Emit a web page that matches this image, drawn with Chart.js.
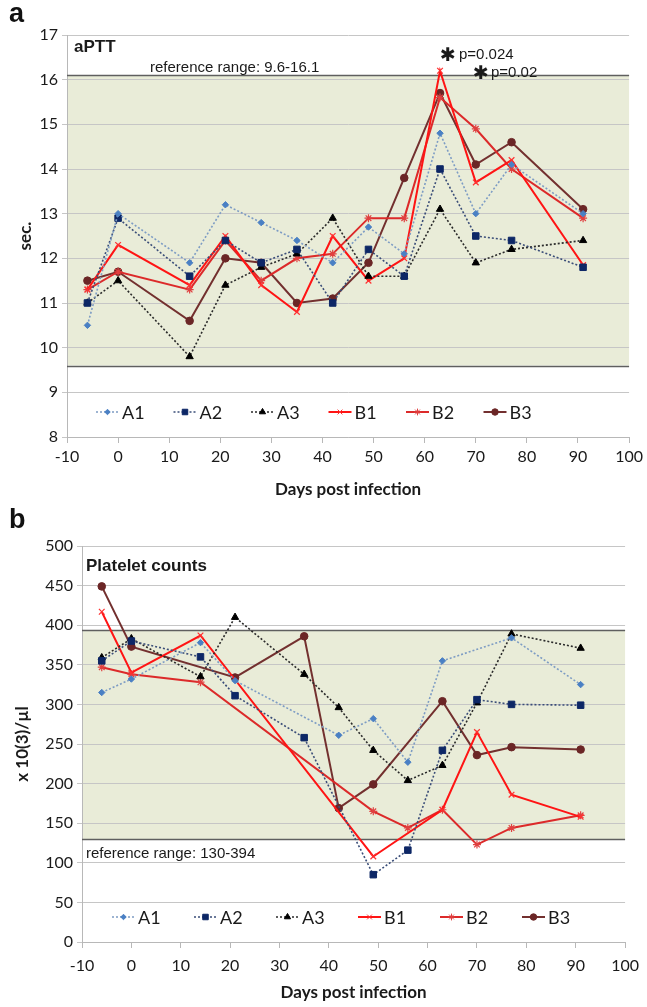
<!DOCTYPE html>
<html>
<head>
<meta charset="utf-8">
<script src="https://cdn.jsdelivr.net/npm/chart.js@4.4.1/dist/chart.umd.min.js"></script>
<style>
  body { margin: 0; background: #fff; width: 647px; height: 1007px; overflow: hidden; position: relative; }
  .wrap { position: absolute; left: 0; width: 647px; }
  .lbl { position: absolute; left: 9px; font: bold 27px "Liberation Sans", Arial, sans-serif; color: #111; }
</style>
</head>
<body>
<div class="wrap" style="top:0;height:500px"><canvas id="apttCanvas" width="647" height="500"></canvas></div>
<div class="wrap" style="top:500px;height:507px"><canvas id="plateletCanvas" width="647" height="507"></canvas></div>
<div class="lbl" style="top:-2px">a</div>
<div class="lbl" style="top:504px">b</div>

<script>
// sampling days (x values)
const days = [-6, 0, 14, 21, 28, 35, 42, 49, 56, 63, 70, 77, 91];
const seriesNames = ["A1", "A2", "A3", "B1", "B2", "B3"];

// aPTT (sec.)
const apttA1 = [10.5, 13.0, 11.9, 13.2, 12.8, 12.4, 11.9, 12.7, 12.1, 14.8, 13.0, 14.1, 13.0];
const apttA2 = [11.0, 12.9, 11.6, 12.4, 11.9, 12.2, 11.0, 12.2, 11.6, 14.0, 12.5, 12.4, 11.8];
const apttA3 = [11.0, 11.5, 9.8, 11.4, 11.8, 12.1, 12.9, 11.6, 11.6, 13.1, 11.9, 12.2, 12.4];
const apttB1 = [11.3, 12.3, 11.4, 12.5, 11.4, 10.8, 12.5, 11.5, 12.0, 16.2, 13.7, 14.2, 11.85];
const apttB2 = [11.3, 11.7, 11.3, 12.4, 11.5, 12.0, 12.1, 12.9, 12.9, 15.6, 14.9, 14.0, 12.9];
const apttB3 = [11.5, 11.7, 10.6, 12.0, 11.9, 11.0, 11.1, 11.9, 13.8, 15.7, 14.1, 14.6, 13.1];
const apttRefLow = 9.6, apttRefHigh = 16.1;

// platelet counts (x 10(3)/µl), null = not sampled
const pltA1 = [315, 332, 378, 330, null, null, 261, 282, 227, 355, null, 384, 325];
const pltA2 = [355, 380, 360, 311, null, 258, null, 85, 116, 242, 306, 300, 299];
const pltA3 = [359, 383, 335, 410, null, 338, 296, 242, 204, 223, 302, 389, 371];
const pltB1 = [417, 340, 387, null, null, null, null, 108, null, 167, 265, 186, 158];
const pltB2 = [347, 338, 328, null, null, null, null, 165, 144, 167, 123, 144, 160];
const pltB3 = [449, 373, null, 334, null, 386, 169, 199, null, 304, 236, 246, 243];
const pltRefLow = 130, pltRefHigh = 394;

// looks
const lineColors   = ["#7d9cc4", "#3a4d78", "#2a2a2a", "#ff1414", "#dc2a2a", "#73302f"];
const markerColors = ["#4a80c4", "#0d2766", "#000000", "#ff3030", "#e04040", "#6b2626"];
const markerStyles = ["rectRot", "rect", "triangle", "crossRot", "star", "circle"];
const markerRadius = [3.2, 4.6, 4.2, 4, 4, 3.8];
const tickFont = {family: "Lato, 'Open Sans', sans-serif", size: 16};
const titleFont = {family: "Lato, 'Open Sans', sans-serif", size: 17, weight: "bold"};

function makeDatasets(values)
{
  return seriesNames.map((name, i) => ({
    label: name,
    data: days.map((d, k) => ({x: d, y: values[i][k]})),
    borderColor: lineColors[i],
    backgroundColor: markerColors[i],
    pointBackgroundColor: markerColors[i],
    pointBorderColor: markerColors[i],
    pointBorderWidth: i >= 3 && i < 5 ? 1.2 : 1,
    pointStyle: markerStyles[i],
    pointRadius: markerRadius[i],
    borderWidth: i < 3 ? 1.6 : 2,
    borderDash: i < 3 ? [2, 2] : [],
    spanGaps: true,
    tension: 0
  }));
}

// shaded reference band, drawn under the grid
const refBand =
{
  id: "refBand",
  beforeDraw(chart, args, o)
  {
    const {ctx, chartArea: a, scales: {y}} = chart;
    const top = y.getPixelForValue(o.hi), bot = y.getPixelForValue(o.lo);
    ctx.save();
    ctx.fillStyle = "#e9ecd8";
    ctx.fillRect(a.left, top, a.right - a.left, bot - top);
    ctx.restore();
  },
  beforeDatasetsDraw(chart, args, o)
  {
    const {ctx, chartArea: a, scales: {y}} = chart;
    ctx.save();
    ctx.strokeStyle = "#5f5f5f";
    ctx.lineWidth = 1.6;
    [o.hi, o.lo].forEach(v => {
      const py = Math.round(y.getPixelForValue(v)) + 0.5;
      ctx.beginPath(); ctx.moveTo(a.left, py); ctx.lineTo(a.right, py); ctx.stroke();
    });
    ctx.restore();
  }
};

// legend sitting inside the plot, above the x axis
const insideLegend =
{
  id: "insideLegend",
  afterDraw(chart, args, o)
  {
    const {ctx, chartArea: a} = chart;
    const y = a.bottom - o.fromBottom;
    ctx.save();
    ctx.font = "18px Lato, 'Open Sans', sans-serif";
    ctx.textBaseline = "middle";
    ctx.fillStyle = "#1a1a1a";
    chart.data.datasets.forEach((ds, i) => {
      const x0 = a.left + o.start + i * o.step;
      ctx.strokeStyle = ds.borderColor;
      ctx.lineWidth = ds.borderWidth;
      ctx.setLineDash(ds.borderDash);
      ctx.beginPath(); ctx.moveTo(x0, y); ctx.lineTo(x0 + 23, y); ctx.stroke();
      ctx.setLineDash([]);
      ctx.fillStyle = ds.pointBackgroundColor;
      ctx.strokeStyle = ds.pointBorderColor;
      ctx.lineWidth = 1;
      Chart.helpers.drawPoint(ctx, {pointStyle: ds.pointStyle, radius: ds.pointRadius * 0.85, borderWidth: 1, rotation: 0}, x0 + 11.5, y);
      ctx.fillStyle = "#1a1a1a";
      ctx.fillText(ds.label, x0 + 26, y + 1);
    });
    ctx.restore();
  }
};

// free text notes on the plot
const notes =
{
  id: "notes",
  afterDraw(chart, args, o)
  {
    const {ctx} = chart;
    ctx.save();
    ctx.textBaseline = "alphabetic";
    ctx.fillStyle = "#1a1a1a";
    o.items.forEach(t => {
      ctx.font = t.font;
      ctx.fillText(t.text, t.x, t.y);
    });
    ctx.restore();
  }
};

function makeOptions(cfg)
{
  return {
    responsive: false,
    animation: false,
    layout: {padding: {top: cfg.padTop, right: 15, left: 0, bottom: 0}},
    plugins: {
      legend: {display: false},
      tooltip: {enabled: false},
      refBand: {lo: cfg.refLo, hi: cfg.refHi},
      insideLegend: {fromBottom: 25, start: cfg.legStart, step: cfg.legStep},
      notes: {items: cfg.notes}
    },
    scales: {
      x: {
        type: "linear", min: -10, max: 100,
        ticks: {stepSize: 10, font: tickFont, color: "#1a1a1a", padding: cfg.xTickPad},
        grid: {drawOnChartArea: false, drawTicks: true, tickLength: 6, color: "#b8b8b8"},
        border: {color: "#b8b8b8"},
        title: {display: true, text: "Days post infection", font: titleFont, color: "#1a1a1a", padding: {top: 0, bottom: cfg.xTitlePad}},
        afterFit(s) { s.height = cfg.xHeight; }
      },
      y: {
        min: cfg.yMin, max: cfg.yMax,
        ticks: {stepSize: cfg.yStep, font: tickFont, color: "#1a1a1a", padding: 4},
        grid: {color: "#c6c6c6", tickLength: 5},
        border: {color: "#b8b8b8"},
        title: {display: true, text: cfg.yTitle, font: titleFont, color: "#1a1a1a", padding: {top: cfg.yTitlePad, bottom: 0}},
        afterFit(s) { s.width = cfg.yWidth; }
      }
    }
  };
}

new Chart(document.getElementById("apttCanvas"), {
  type: "line",
  data: {datasets: makeDatasets([apttA1, apttA2, apttA3, apttB1, apttB2, apttB3])},
  options: makeOptions({
    padTop: 35, yWidth: 67, xHeight: 63, xTickPad: 4, xTitlePad: 0, yTitlePad: 15,
    yMin: 8, yMax: 17, yStep: 1, yTitle: "sec.",
    refLo: apttRefLow, refHi: apttRefHigh,
    legStart: 29, legStep: 77.5,
    notes: [
      {text: "aPTT", x: 74, y: 52, font: "bold 17px 'Liberation Sans', Arial, sans-serif"},
      {text: "reference range: 9.6-16.1", x: 150, y: 72, font: "15px 'Liberation Sans', Arial, sans-serif"},
      {text: "\u2731", x: 440, y: 61, font: "bold 19px 'DejaVu Sans', sans-serif"},
      {text: "p=0.024", x: 459, y: 59, font: "15px 'Liberation Sans', Arial, sans-serif"},
      {text: "\u2731", x: 473, y: 79, font: "bold 19px 'DejaVu Sans', sans-serif"},
      {text: "p=0.02", x: 491, y: 77, font: "15px 'Liberation Sans', Arial, sans-serif"}
    ]
  }),
  plugins: [refBand, insideLegend, notes]
});

new Chart(document.getElementById("plateletCanvas"), {
  type: "line",
  data: {datasets: makeDatasets([pltA1, pltA2, pltA3, pltB1, pltB2, pltB3])},
  options: makeOptions({
    padTop: 46, yWidth: 82, xHeight: 65, xTickPad: 8, xTitlePad: 4, yTitlePad: 12,
    yMin: 0, yMax: 500, yStep: 50, yTitle: "x 10(3)/\u00b5l",
    refLo: pltRefLow, refHi: pltRefHigh,
    legStart: 30, legStep: 82,
    notes: [
      {text: "Platelet counts", x: 86, y: 71, font: "bold 17px 'Liberation Sans', Arial, sans-serif"},
      {text: "reference range: 130-394", x: 86, y: 358, font: "15px 'Liberation Sans', Arial, sans-serif"}
    ]
  }),
  plugins: [refBand, insideLegend, notes]
});
</script>
</body>
</html>
